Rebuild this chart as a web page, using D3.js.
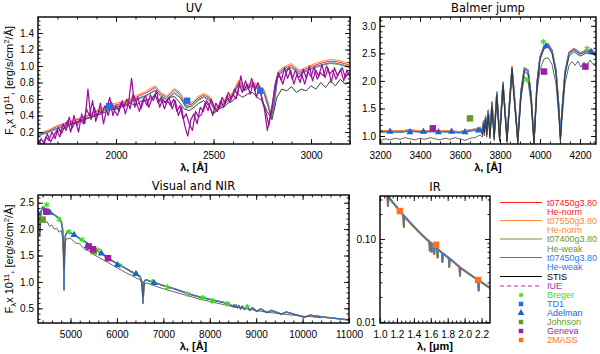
<!DOCTYPE html>
<html><head><meta charset="utf-8">
<script src="https://cdn.jsdelivr.net/npm/d3@7"></script>
<style>body{margin:0;background:#fff}svg{display:block}</style>
</head><body><svg id="chart" width="600" height="354"></svg>
<script>
// ================= DATA =================
// ---- UV panel ----
const uvWave=[1600,1650,1700,1750,1800,1850,1900,1950,2000,2050,2100,2150,2200,2230,2260,2300,2330,2360,2390,2420,2450,2480,2510,2540,2570,2600,2630,2660,2700,2730,2760,2780,2795,2810,2830,2860,2900,2940,2980,3020,3060,3100,3140,3170,3200];
const uvRed=[0.17,0.21,0.27,0.31,0.35,0.39,0.45,0.50,0.53,0.56,0.62,0.67,0.74,0.66,0.62,0.71,0.65,0.52,0.54,0.61,0.65,0.61,0.47,0.54,0.59,0.67,0.81,0.73,0.79,0.75,0.69,0.54,0.40,0.54,0.91,0.97,1.01,0.93,0.97,1.01,1.04,1.06,1.05,1.03,1.01];
const uvOrange=[0.18,0.22,0.28,0.32,0.36,0.40,0.46,0.52,0.55,0.58,0.64,0.69,0.76,0.68,0.64,0.73,0.67,0.54,0.56,0.63,0.67,0.63,0.49,0.56,0.61,0.69,0.83,0.75,0.81,0.77,0.71,0.56,0.42,0.56,0.93,0.99,1.03,0.95,0.99,1.03,1.06,1.08,1.07,1.05,1.03];
const uvOlive=[0.15,0.19,0.24,0.28,0.32,0.36,0.41,0.47,0.50,0.53,0.59,0.63,0.70,0.63,0.59,0.67,0.61,0.49,0.51,0.58,0.62,0.58,0.44,0.51,0.56,0.64,0.78,0.70,0.76,0.72,0.66,0.51,0.37,0.51,0.88,0.94,0.98,0.90,0.94,0.98,1.01,1.03,1.02,1.00,0.98];
const uvBlue=[0.16,0.20,0.25,0.29,0.33,0.37,0.42,0.48,0.51,0.54,0.60,0.64,0.71,0.64,0.60,0.68,0.62,0.50,0.52,0.59,0.63,0.59,0.45,0.52,0.57,0.65,0.79,0.71,0.77,0.73,0.67,0.52,0.38,0.52,0.89,0.95,0.99,0.91,0.95,0.99,1.02,1.04,1.03,1.01,0.99];
const uvStisWave=[1700,1725,1750,1775,1800,1825,1850,1875,1900,1925,1950,1975,2000,2025,2050,2075,2100,2125,2150,2175,2200,2225,2250,2275,2300,2325,2350,2375,2400,2425,2450,2475,2500,2525,2550,2575,2600,2625,2650,2675,2700,2725,2750,2775,2800,2825,2850,2875,2900,2925,2950,2975,3000,3025,3050,3075,3100,3125,3150,3175,3200];
const uvStis=[0.20,0.24,0.26,0.30,0.32,0.34,0.36,0.38,0.40,0.42,0.45,0.47,0.48,0.50,0.52,0.55,0.52,0.57,0.58,0.60,0.64,0.58,0.56,0.62,0.63,0.56,0.48,0.46,0.50,0.55,0.58,0.52,0.42,0.48,0.50,0.55,0.58,0.66,0.62,0.66,0.68,0.62,0.58,0.45,0.35,0.62,0.72,0.70,0.75,0.68,0.72,0.70,0.76,0.72,0.80,0.74,0.82,0.76,0.84,0.78,0.80];
const iueWaveA=[1600,1616,1632,1648,1664,1680,1696,1712,1728,1744,1760,1776,1792,1808,1824,1840,1856,1872,1888,1904,1920,1936,1952,1968,1984,2000,2016,2032,2048,2064,2080,2096,2112,2128,2144,2160,2176,2192,2208,2224,2240,2256,2272,2288,2304,2320,2336,2352,2368,2384,2400,2416,2432,2448,2464,2480,2496,2512,2528,2544,2560,2576,2592,2608,2624,2640,2656,2672,2688,2704,2720,2736,2752,2768,2784,2800,2816,2832,2848,2864,2880,2896,2912,2928,2944,2960,2976,2992,3008,3024,3040,3056,3072,3088,3104,3120,3136,3152,3168,3184,3200];
const iueFluxA=[0.04,0.12,0.06,0.18,0.08,0.15,0.22,0.14,0.30,0.22,0.38,0.25,0.33,0.20,0.42,0.30,0.72,0.35,0.50,0.38,0.55,0.30,0.48,0.62,0.40,0.52,0.45,0.58,0.42,0.55,0.85,0.50,0.62,0.48,0.60,0.52,0.65,0.58,0.70,0.50,0.60,0.55,0.62,0.48,0.58,0.40,0.50,0.28,0.15,0.35,0.42,0.30,0.50,0.45,0.58,0.52,0.40,0.55,0.48,0.62,0.55,0.68,0.60,0.72,0.65,0.88,0.70,0.78,0.66,0.80,0.62,0.75,0.55,0.45,0.28,0.50,0.78,0.92,0.82,0.98,0.85,0.95,0.78,0.90,0.80,0.96,0.85,1.00,0.82,0.95,0.88,1.02,0.86,0.97,0.80,0.98,0.88,0.96,0.82,0.95,0.88];
const iueWaveB=[1608,1624,1640,1656,1672,1688,1704,1720,1736,1752,1768,1784,1800,1816,1832,1848,1864,1880,1896,1912,1928,1944,1960,1976,1992,2008,2024,2040,2056,2072,2088,2104,2120,2136,2152,2168,2184,2200,2216,2232,2248,2264,2280,2296,2312,2328,2344,2360,2376,2392,2408,2424,2440,2456,2472,2488,2504,2520,2536,2552,2568,2584,2600,2616,2632,2648,2664,2680,2696,2712,2728,2744,2760,2776,2792,2808,2824,2840,2856,2872,2888,2904,2920,2936,2952,2968,2984,3000,3016,3032,3048,3064,3080,3096,3112,3128,3144,3160,3176,3192];
const iueFluxB=[0.08,0.03,0.14,0.10,0.20,0.12,0.26,0.18,0.26,0.34,0.20,0.40,0.28,0.36,0.30,0.48,0.40,0.58,0.33,0.46,0.42,0.52,0.40,0.56,0.46,0.40,0.55,0.50,0.60,0.48,0.66,0.56,0.45,0.58,0.64,0.50,0.60,0.66,0.55,0.62,0.48,0.58,0.52,0.60,0.45,0.52,0.36,0.42,0.30,0.22,0.45,0.38,0.42,0.55,0.46,0.60,0.50,0.45,0.58,0.50,0.64,0.56,0.66,0.60,0.78,0.68,0.82,0.72,0.85,0.70,0.80,0.66,0.50,0.22,0.40,0.62,0.85,0.88,0.78,0.92,0.98,0.84,0.95,0.86,0.90,0.78,0.93,0.87,0.99,0.84,0.92,0.88,1.00,0.90,0.95,0.84,0.92,0.98,0.86,0.92];
const td1Wave=[1965,2365,2740];
const td1Flux=[0.515,0.58,0.70];

// ---- Balmer jump panel ----
const balWave=[3200,3250,3300,3350,3400,3450,3500,3550,3600,3650,3680,3700,3712,3718,3722,3728,3734,3741,3750,3760,3771,3784,3798,3815,3835,3860,3889,3905,3922,3940,3955,3970,3985,4000,4020,4040,4060,4080,4095,4102,4110,4125,4145,4170,4200,4230,4255,4280];
const balNorm=[1.09,1.10,1.09,1.11,1.09,1.10,1.10,1.09,1.08,1.11,1.13,1.16,1.10,1.28,1.14,1.36,1.12,1.47,1.08,1.62,1.02,1.80,1.00,1.98,0.97,2.26,0.95,1.82,2.24,2.20,1.77,0.92,1.97,2.44,2.64,2.68,2.56,2.20,1.50,1.00,1.47,2.17,2.52,2.59,2.51,2.55,2.58,2.49];
const balWeak=[1.07,1.08,1.07,1.09,1.07,1.08,1.08,1.07,1.06,1.09,1.11,1.14,1.08,1.26,1.12,1.34,1.10,1.45,1.06,1.60,1.00,1.78,0.98,1.96,0.95,2.24,0.93,1.80,2.22,2.18,1.75,0.90,1.95,2.42,2.62,2.66,2.54,2.18,1.48,0.98,1.45,2.15,2.50,2.57,2.49,2.53,2.56,2.47];
const balStisHiWave=[3700,3712,3718,3722,3728,3734,3741,3750,3760,3771,3784,3798,3815,3835,3860,3889,3905,3922,3940,3955,3970,3985,4000,4020,4040,4060,4080,4095,4102,4110,4125,4145,4170,4200,4230,4255,4280];
const balStisHi=[1.12,1.02,1.22,1.05,1.30,1.02,1.40,0.98,1.55,0.95,1.74,0.92,1.93,0.90,2.22,0.88,1.75,2.18,2.12,1.70,0.86,1.90,2.38,2.58,2.62,2.50,2.12,1.40,0.92,1.40,2.10,2.45,2.53,2.45,2.50,2.52,2.44];
const balStisLoWave=[3200,3225,3250,3275,3300,3325,3350,3375,3400,3425,3450,3475,3500,3525,3550,3575,3600,3625,3650,3675,3700,3712,3718,3722,3728,3734,3741,3750,3760,3771,3784,3798,3815,3835,3860,3889,3905,3922,3940,3955,3970,3985,4000,4020,4040,4060,4080,4095,4102,4110,4125,4145,4160,4175,4190,4205,4220,4235,4250,4265,4280];
const balStisLo=[0.92,0.95,0.93,0.96,0.94,0.97,0.95,0.93,0.96,0.94,0.97,0.95,0.93,0.96,0.94,0.97,0.95,0.92,0.96,0.97,1.02,0.98,1.18,1.00,1.25,0.98,1.35,0.95,1.48,0.92,1.65,0.90,1.85,0.88,2.10,0.86,1.68,2.08,2.00,1.60,0.85,1.80,2.20,2.40,2.42,2.30,1.95,1.30,0.90,1.30,1.95,2.28,2.35,2.28,2.36,2.25,2.34,2.28,2.38,2.30,2.32];
const balBregerWave=[3935,4017,4235], balBregerFlux=[2.02,2.71,2.59];
const balAdelWave=[3250,3350,3417,3492,3558,3625,3692,4030,4255];
const balAdelFlux=[1.08,1.07,1.08,1.07,1.08,1.07,1.10,2.63,2.52];
const balJohnWave=[3650], balJohnFlux=[1.32];
const balGenWave=[3464,4020,4227], balGenFlux=[1.14,2.17,2.26];

// ---- Visual and NIR panel ----
const visWave=[4300,4320,4340,4360,4400,4500,4600,4700,4800,4830,4850,4861,4872,4890,4930,5000,5100,5200,5300,5400,5500,5600,5700,5800,5900,6000,6100,6200,6300,6400,6500,6540,6563,6586,6620,6700,6800,6900,7000,7200,7400,7600,7800,8000,8200,8400,8502,8520,8545,8570,8598,8630,8665,8700,8750,8800,8863,8920,9015,9100,9229,9330,9546,9650,10049,10150,10500,11000];
const visModel=[2.38,2.30,1.95,2.32,2.42,2.36,2.30,2.24,2.15,2.00,1.50,0.85,1.50,1.88,1.95,1.93,1.88,1.82,1.77,1.71,1.64,1.58,1.52,1.46,1.40,1.35,1.30,1.25,1.20,1.15,1.10,1.00,0.60,1.00,1.04,1.02,0.99,0.96,0.93,0.88,0.82,0.76,0.71,0.67,0.63,0.59,0.53,0.57,0.52,0.56,0.51,0.55,0.49,0.54,0.48,0.53,0.46,0.51,0.44,0.49,0.42,0.46,0.39,0.43,0.33,0.37,0.33,0.28];
const visStisWave=[4300,4340,4360,4400,4450,4500,4550,4600,4650,4700,4750,4800,4840,4861,4880,4920,5000,5100,5200,5300,5400,5500,5600,5700,5800,5900,6000,6100,6200,6300,6400,6500,6540,6563,6586,6650,6800,7000,7200,7400,7600,7800,8000,8200,8400,8600,8800,9000,9200,9400,9600,9800,10000,10200,10400];
const visStis=[2.22,1.85,2.15,2.20,2.12,2.14,2.05,2.08,2.00,2.02,1.94,1.98,1.80,1.25,1.75,1.82,1.83,1.74,1.72,1.62,1.58,1.52,1.47,1.42,1.37,1.32,1.27,1.22,1.17,1.13,1.08,1.04,0.96,0.72,0.96,0.98,0.93,0.87,0.82,0.77,0.72,0.67,0.63,0.59,0.55,0.52,0.49,0.46,0.43,0.41,0.39,0.37,0.35,0.34,0.32];
const visBregerWave=[4486,4752,4967,5250,5600,6060,6400,6763,7086,7517,7840,8056,8379,8810];
const visBregerFlux=[2.46,2.19,1.95,1.80,1.60,1.31,1.16,1.00,0.90,0.77,0.70,0.64,0.59,0.53];
const visAdelWave=[4559,5076,5363,5665,6009,6412,6800];
const visAdelFlux=[2.31,1.89,1.68,1.54,1.32,1.15,0.98];
const visJohnWave=[4400,5500], visJohnFlux=[2.18,1.58];
const visGenWave=[4476,5395,5488,5807], visGenFlux=[2.33,1.67,1.62,1.45];

// ---- IR panel ----
const irWave=[1.00,1.05,1.088,1.094,1.100,1.15,1.20,1.25,1.276,1.282,1.288,1.35,1.40,1.45,1.50,1.55,1.584,1.589,1.594,1.606,1.611,1.616,1.636,1.641,1.646,1.676,1.681,1.686,1.732,1.737,1.742,1.813,1.818,1.823,1.940,1.945,1.950,2.05,2.10,2.160,2.166,2.172,2.25,2.30];
const irModel=[0.448,0.378,0.334,0.25,0.322,0.277,0.240,0.208,0.194,0.14,0.188,0.160,0.141,0.125,0.111,0.0995,0.093,0.072,0.091,0.089,0.070,0.087,0.083,0.066,0.081,0.076,0.060,0.075,0.068,0.053,0.067,0.059,0.046,0.058,0.046,0.036,0.045,0.0381,0.0351,0.032,0.024,0.0315,0.0277,0.0257];
const tmassWave=[1.235,1.662,2.159], tmassFlux=[0.217,0.085,0.032];

// ---- ticks ----
const uvXTicks=[2000,2500,3000], uvYTicks=[0.2,0.4,0.6,0.8,1.0,1.2,1.4];
const balXTicks=[3200,3400,3600,3800,4000,4200], balYTicks=[1.0,1.5,2.0,2.5,3.0];
const visXTicks=[5000,6000,7000,8000,9000,10000,11000], visYTicks=[0.5,1.0,1.5,2.0,2.5];
const irXTicks=[1.0,1.2,1.4,1.6,1.8,2.0,2.2], irYTicks=[0.01,0.1];

// ---- legend ----
const legLineColors=['#ff2020','#ff8a35','#6a9a2a','#2f78e0','#000000','#b030b0'];
const legLineLabels=[['t07450g3.80','He-norm'],['t07550g3.80','He-norm'],['t07400g3.80','He-weak'],['t07450g3.80','He-weak'],['STIS'],['IUE']];
const legSymLabels=['Breger','TD1','Adelman','Johnson','Geneva','2MASS'];
const legSymColors=['#44dd22','#1e6ef0','#1f5fd8','#6b9a1f','#9a1fa6','#ff7020'];

// ================= DRAW =================
const FONT='"Liberation Sans", Arial, Helvetica, sans-serif';
const svg=d3.select('#chart');
const defs=svg.append('defs');
const C={red:'#ff2020',orange:'#ff8a35',olive:'#6a9a2a',blue:'#2f78e0',stis:'#3a3a3a',iue:'#9a0d9a',
  breger:'#44dd22',td1:'#1e6ef0',adel:'#1f5fd8',john:'#6b9a1f',gen:'#9a1fa6',tmass:'#ff7020'};

function makePanel(o){
  const x=d3.scaleLinear().domain(o.xd).range([o.L,o.R]);
  const y=(o.ylog?d3.scaleLog():d3.scaleLinear()).domain(o.yd).range([o.B,o.T]);
  const g=svg.append('g');
  const cid='clip-'+o.name;
  defs.append('clipPath').attr('id',cid).append('rect')
    .attr('x',o.L).attr('y',o.T).attr('width',o.R-o.L).attr('height',o.B-o.T);
  const plot=g.append('g').attr('clip-path',`url(#${cid})`);
  const none=()=> '';
  const ax=(axis,tr,vals,size,fmt,pad)=>{
    const a=g.append('g').attr('transform',tr)
      .call(axis.tickValues(vals).tickSize(size).tickPadding(pad).tickFormat(fmt));
    a.select('.domain').remove();
    a.attr('font-family',FONT).attr('font-size',10);
    a.selectAll('line').attr('stroke','#000').attr('stroke-width',0.9);
    a.selectAll('text').attr('fill','#000');
  };
  ax(d3.axisBottom(x),`translate(0,${o.B})`,o.xMaj,-5,o.xFmt,8);
  ax(d3.axisBottom(x),`translate(0,${o.B})`,o.xMin,-2.5,none,8);
  ax(d3.axisTop(x),`translate(0,${o.T})`,o.xMaj,-5,none,3);
  ax(d3.axisTop(x),`translate(0,${o.T})`,o.xMin,-2.5,none,3);
  ax(d3.axisLeft(y),`translate(${o.L},0)`,o.yMaj,-5,o.yFmt,4);
  ax(d3.axisLeft(y),`translate(${o.L},0)`,o.yMin,-2.5,none,4);
  ax(d3.axisRight(y),`translate(${o.R},0)`,o.yMaj,-5,none,3);
  ax(d3.axisRight(y),`translate(${o.R},0)`,o.yMin,-2.5,none,3);
  g.append('rect').attr('x',o.L).attr('y',o.T).attr('width',o.R-o.L).attr('height',o.B-o.T)
    .attr('fill','none').attr('stroke','#000').attr('stroke-width',1.4);
  const cx=(o.L+o.R)/2;
  g.append('text').attr('x',cx).attr('y',o.T-5).attr('text-anchor','middle')
    .attr('font-family','"DejaVu Sans", sans-serif').attr('font-size',11.5).text(o.title);
  const xl=g.append('text').attr('x',cx).attr('y',o.B+27).attr('text-anchor','middle')
    .attr('font-family',FONT).attr('font-size',11).attr('font-weight','bold');
  xl.text(o.xlabel);
  if(o.ylabel){
    const t=g.append('text').attr('transform',`translate(13,${(o.T+o.B)/2}) rotate(-90)`)
      .attr('text-anchor','middle').attr('font-family',FONT).attr('font-size',11);
    t.append('tspan').text('F');
    t.append('tspan').attr('dy',2.5).attr('font-size',8).text('λ');
    t.append('tspan').attr('dy',-2.5).text('x 10');
    t.append('tspan').attr('dy',-4).attr('font-size',8).text('11');
    t.append('tspan').attr('dy',4).text(', [erg/s/cm');
    t.append('tspan').attr('dy',-4).attr('font-size',8).text('2');
    t.append('tspan').attr('dy',4).text('/Å]');
  }
  return {x,y,plot,g};
}
function line(p,xs,ys,color,w,dash){
  const data=xs.map((v,i)=>[v,ys[i]]).filter(d=>d[1]!=null);
  p.plot.append('path').datum(data)
    .attr('d',d3.line().x(d=>p.x(d[0])).y(d=>p.y(d[1])))
    .attr('fill','none').attr('stroke',color).attr('stroke-width',w)
    .attr('stroke-linejoin','round').attr('stroke-dasharray',dash||null);
}
function syms(p,xs,ys,type,size,color){
  const sym=d3.symbol().type(type).size(size);
  const isStroke=(type===d3.symbolAsterisk);
  p.plot.selectAll(null).data(xs.map((v,i)=>[v,ys[i]])).enter().append('path')
    .attr('transform',d=>`translate(${p.x(d[0])},${p.y(d[1])})`)
    .attr('d',sym)
    .attr('fill',isStroke?'none':color)
    .attr('stroke',isStroke?color:'none').attr('stroke-width',isStroke?1.3:0);
}
const rng=(a,b,s)=>d3.range(a,b+s/2,s);

// ---- UV ----
const uv=makePanel({name:'uv',L:38,R:350,T:17,B:144,xd:[1600,3200],yd:[0.055,1.594],
  xMaj:uvXTicks,xMin:rng(1600,3200,100),yMaj:uvYTicks,yMin:rng(0.1,1.55,0.05),
  xFmt:d3.format('d'),yFmt:d3.format('.1f'),title:'UV',xlabel:'λ, [Å]',ylabel:true});
line(uv,uvWave,uvRed,C.red,1);
line(uv,uvWave,uvOrange,C.orange,1);
line(uv,uvWave,uvOlive,C.olive,1);
line(uv,uvWave,uvBlue,C.blue,1);
line(uv,uvStisWave,uvStis,C.stis,1);
line(uv,iueWaveA,iueFluxA,C.iue,1.2);
line(uv,iueWaveB,iueFluxB,C.iue,1.2);
syms(uv,td1Wave,td1Flux,d3.symbolSquare,40,C.td1);

// ---- Balmer ----
const bal=makePanel({name:'bal',L:380,R:596,T:17,B:144,xd:[3200,4280],yd:[0.855,3.16],
  xMaj:balXTicks,xMin:rng(3200,4250,50),yMaj:balYTicks,yMin:rng(0.9,3.1,0.1),
  xFmt:d3.format('d'),yFmt:d3.format('.1f'),title:'Balmer  jump',xlabel:'λ, [Å]'});
line(bal,balWave,balNorm,C.red,1.2);
line(bal,balWave,balNorm,C.orange,1.2);
line(bal,balWave,balWeak,C.olive,1.2);
line(bal,balWave,balWeak,C.blue,1.4);
line(bal,balStisLoWave,balStisLo,'#555',0.9);
line(bal,balStisHiWave,balStisHi,'#333',0.9);
syms(bal,balAdelWave,balAdelFlux,d3.symbolTriangle,22,C.adel);
syms(bal,balBregerWave,balBregerFlux,d3.symbolAsterisk,22,C.breger);
syms(bal,balJohnWave,balJohnFlux,d3.symbolSquare,42,C.john);
syms(bal,balGenWave,balGenFlux,d3.symbolSquare,42,C.gen);

// ---- Visual and NIR ----
const vis=makePanel({name:'vis',L:38,R:349,T:195,B:323,xd:[4300,11000],yd:[0.222,2.646],
  xMaj:visXTicks,xMin:rng(4400,11000,200),yMaj:visYTicks,yMin:rng(0.3,2.6,0.1),
  xFmt:d3.format('d'),yFmt:d3.format('.1f'),title:'Visual and NIR',xlabel:'λ, [Å]',ylabel:true});
line(vis,visWave,visModel,C.red,1.2);
line(vis,visWave,visModel,C.orange,1.2);
line(vis,visWave,visModel,C.olive,1.2);
line(vis,visWave,visModel,'#4577bd',1.5);
line(vis,visStisWave,visStis,'#555',0.9);
syms(vis,visBregerWave,visBregerFlux,d3.symbolAsterisk,22,C.breger);
syms(vis,visAdelWave,visAdelFlux,d3.symbolTriangle,22,C.adel);
syms(vis,visJohnWave,visJohnFlux,d3.symbolSquare,42,C.john);
syms(vis,visGenWave,visGenFlux,d3.symbolSquare,42,C.gen);

// ---- IR ----
const ir=makePanel({name:'ir',L:380,R:490,T:196,B:323,xd:[1.0,2.3],yd:[0.0097,0.33],ylog:true,
  xMaj:irXTicks,xMin:rng(1.05,2.25,0.05),yMaj:irYTicks,yMin:[0.02,0.03,0.04,0.05,0.06,0.07,0.08,0.09,0.2,0.3],
  xFmt:d3.format('.1f'),yFmt:d3.format('.2f'),title:'IR',xlabel:'λ, [μm]'});
line(ir,irWave,irModel,C.red,2);
line(ir,irWave,irModel,C.orange,2);
line(ir,irWave,irModel,C.olive,1.6);
line(ir,irWave,irModel,'#4577bd',1.4);
syms(ir,tmassWave,tmassFlux,d3.symbolSquare,42,C.tmass);

// ---- Legend ----
const lg=svg.append('g').attr('font-family',FONT).attr('font-size',9);
const lineY=[202.5,220.5,239,257.5,276.5,286];
legLineLabels.forEach((labs,i)=>{
  const yy=lineY[i];
  lg.append('line').attr('x1',500).attr('x2',542).attr('y1',yy).attr('y2',yy)
    .attr('stroke',legLineColors[i]).attr('stroke-width',1.1)
    .attr('stroke-dasharray',i===5?'4,3':null);
  labs.forEach((t,j)=>lg.append('text').attr('x',547).attr('y',yy+3.3+j*9.2)
    .attr('fill',i===4?'#000':legLineColors[i]).text(t));
});
const symTypes=[d3.symbolAsterisk,d3.symbolSquare,d3.symbolTriangle,d3.symbolSquare,d3.symbolSquare,d3.symbolSquare];
legSymLabels.forEach((t,i)=>{
  const yy=295+i*9;
  const isStar=i===0;
  lg.append('path').attr('transform',`translate(521,${yy})`)
    .attr('d',d3.symbol().type(symTypes[i]).size(isStar?16:20)())
    .attr('fill',isStar?'none':legSymColors[i]).attr('stroke',isStar?legSymColors[i]:'none').attr('stroke-width',1.2);
  lg.append('text').attr('x',547).attr('y',yy+3.3).attr('fill',legSymColors[i]).text(t);
});
</script></body></html>
